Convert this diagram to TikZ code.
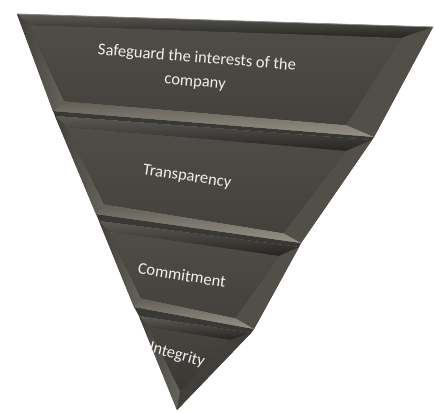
\documentclass[tikz,border=0pt]{standalone}
\usepackage{fontspec}
\setmainfont{Carlito}
\definecolor{baseDark}{RGB}{44,42,39}
\definecolor{grooveCol}{RGB}{58,56,52}
\definecolor{bevTopA}{RGB}{92,90,84}
\definecolor{bevTopB}{RGB}{38,36,33}
\definecolor{bevRight}{RGB}{82,79,73}
\definecolor{bevBotA}{RGB}{98,94,86}
\definecolor{bevBotB}{RGB}{150,146,135}
\definecolor{bevLeftA}{RGB}{66,63,58}
\definecolor{bevLeftB}{RGB}{102,99,92}
\definecolor{faceTop}{RGB}{80,77,72}
\definecolor{faceBot}{RGB}{68,65,60}
\definecolor{labelText}{RGB}{240,240,238}

% one bevelled band: outer corners #1TL #1TR #1BR #1BL, inner corners #1tl #1tr #1br #1bl
\newcommand\bevelband[1]{%
  \fill[baseDark] (#1TL) -- (#1TR) -- (#1BR) -- (#1BL) -- cycle;
  \shade[top color=bevTopA, bottom color=bevTopB] (#1TL) -- (#1TR) -- (#1tr) -- (#1tl) -- cycle;
  \fill[bevRight] (#1TR) -- (#1BR) -- (#1br) -- (#1tr) -- cycle;
  \shade[top color=bevBotA, bottom color=bevBotB] (#1BR) -- (#1BL) -- (#1bl) -- (#1br) -- cycle;
  \shade[left color=bevLeftA, right color=bevLeftB] (#1BL) -- (#1TL) -- (#1tl) -- (#1bl) -- cycle;
  \shade[top color=faceTop, bottom color=faceBot] (#1tl) -- (#1tr) -- (#1br) -- (#1bl) -- cycle;
}

\begin{document}
\begin{tikzpicture}[x=0.75pt,y=-0.75pt,
  bandlabel/.style={text=labelText, font=\fontsize{12.4}{18}\selectfont, align=center, inner sep=0pt}]
\useasboundingbox (0,0) rectangle (435,413);

% band 1
\coordinate (aTL) at (17,14);   \coordinate (aTR) at (433,27);
\coordinate (aBR) at (374,137); \coordinate (aBL) at (53,111);
\coordinate (atl) at (29,25);   \coordinate (atr) at (401,38);
\coordinate (abr) at (346,125); \coordinate (abl) at (64,101);
% band 2
\coordinate (bTL) at (55,116);  \coordinate (bTR) at (372,140);
\coordinate (bBR) at (301,243); \coordinate (bBL) at (96,214);
\coordinate (btl) at (66,127);  \coordinate (btr) at (346,151);
\coordinate (bbr) at (283,233); \coordinate (bbl) at (104,204);
% band 3
\coordinate (cTL) at (99,221);  \coordinate (cTR) at (299,247);
\coordinate (cBR) at (254,329); \coordinate (cBL) at (134,307);
\coordinate (ctl) at (108,231); \coordinate (ctr) at (279,256);
\coordinate (cbr) at (235,318); \coordinate (cbl) at (141,298);
% band 4 (triangle)
\coordinate (dTL) at (139,316); \coordinate (dTR) at (251,333);
\coordinate (dTip) at (177,410);
\coordinate (dtl) at (149,327); \coordinate (dtr) at (230,340);
\coordinate (dtip) at (180,391);

% dark grooves between neighbouring bands
\fill[grooveCol] (aBL) -- (aBR) -- (bTR) -- (bTL) -- cycle;
\fill[grooveCol] (bBL) -- (bBR) -- (cTR) -- (cTL) -- cycle;
\fill[grooveCol] (cBL) -- (cBR) -- (dTR) -- (dTL) -- cycle;

\bevelband{a}
\bevelband{b}
\bevelband{c}

\fill[baseDark] (dTL) -- (dTR) -- (dTip) -- cycle;
\shade[top color=bevTopA, bottom color=bevTopB] (dTL) -- (dTR) -- (dtr) -- (dtl) -- cycle;
\fill[bevRight!80!black] (dTR) -- (dTip) -- (dtip) -- (dtr) -- cycle;
\shade[left color=bevLeftA, right color=bevLeftB] (dTip) -- (dTL) -- (dtl) -- (dtip) -- cycle;
\shade[top color=faceTop!90!black, bottom color=faceBot!85!black] (dtl) -- (dtr) -- (dtip) -- cycle;

% thin highlight along the top rim
\draw[bevTopA!70!white, line width=0.6pt] (aTL) -- (aTR);

% labels
\node[bandlabel, rotate=-4.6] (safeguard) at (196,70) {Safeguard the interests of the\\company};
\node[bandlabel, rotate=-8.5] (transparency) at (187,177) {Transparency};
\node[bandlabel, rotate=-9] (commitment) at (182,275) {Commitment};
\node[bandlabel, rotate=-15] (integrity) at (177,355) {Integrity};
\end{tikzpicture}
\end{document}
